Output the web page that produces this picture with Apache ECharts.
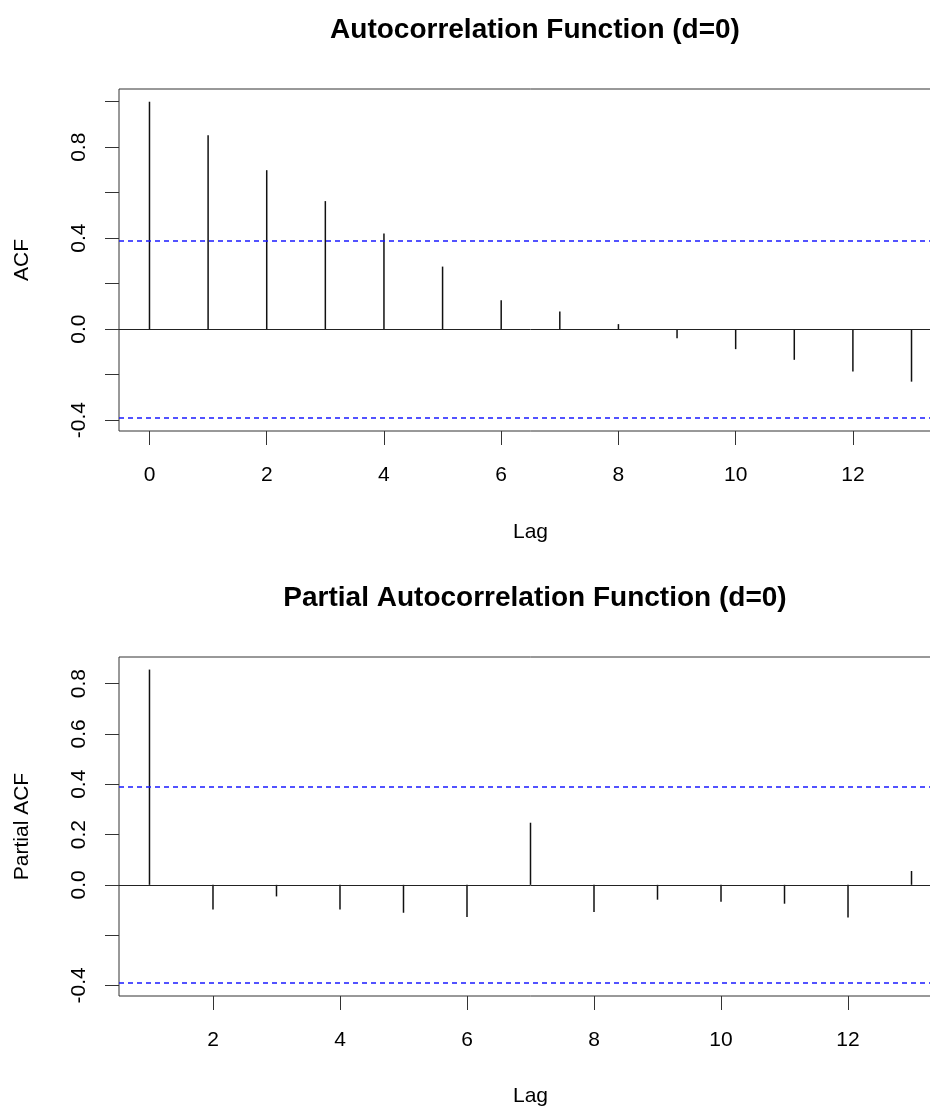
<!DOCTYPE html>
<html>
<head>
<meta charset="utf-8">
<script src="https://cdn.jsdelivr.net/npm/echarts@6/dist/echarts.min.js"></script>
<style>
  html, body { margin: 0; padding: 0; background: #fff; overflow: hidden; }
  /* the plot box runs past the right edge of the picture, so the canvas is wider than the window */
  #main { width: 960px; height: 1108px; }
</style>
</head>
<body>
<div id="main"></div>
<script>
// ACF, lags 0..13
const acfLags = [0, 1, 2, 3, 4, 5, 6, 7, 8, 9, 10, 11, 12, 13]
const acfValues = [1.0, 0.853, 0.699, 0.563, 0.421, 0.275, 0.127, 0.077, 0.022, -0.040, -0.088, -0.135, -0.186, -0.231]
// PACF, lags 1..13
const pacfLags = [1, 2, 3, 4, 5, 6, 7, 8, 9, 10, 11, 12, 13]
const pacfValues = [0.856, -0.098, -0.046, -0.098, -0.111, -0.128, 0.247, -0.108, -0.059, -0.067, -0.075, -0.130, 0.055]
const confBound = 0.392

const acfXTicks = [0, 2, 4, 6, 8, 10, 12]
const pacfXTicks = [2, 4, 6, 8, 10, 12]
const acfYTicks = [-0.4, -0.2, 0, 0.2, 0.4, 0.6, 0.8, 1.0]
const acfYLabels = [-0.4, 0, 0.4, 0.8]
const pacfYTicks = [-0.4, -0.2, 0, 0.2, 0.4, 0.6, 0.8]
const pacfYLabels = [-0.4, 0, 0.2, 0.4, 0.6, 0.8]

const FONT = 'Liberation Sans'

function xAxisOf(gridIndex, min, max, ticks, gap) {
  return {
    type: 'value', gridIndex, min, max,
    name: 'Lag', nameLocation: 'middle', nameGap: gap,
    nameTextStyle: { fontSize: 21, color: '#000', fontFamily: FONT },
    axisLine: { show: false, onZero: false },
    axisTick: { show: true, length: 14, customValues: ticks, lineStyle: { color: '#333', width: 1 } },
    axisLabel: { customValues: ticks, margin: 34, fontSize: 21, color: '#000', fontFamily: FONT,
      formatter: v => String(Math.round(v)) },
    splitLine: { show: false }
  }
}

function yAxisOf(gridIndex, min, max, name, ticks, labels) {
  return {
    type: 'value', gridIndex, min, max,
    name, nameLocation: 'middle', nameGap: 86,
    nameTextStyle: { fontSize: 21, color: '#000', fontFamily: FONT },
    axisLine: { show: false, onZero: false },
    axisTick: { show: true, length: 14, customValues: ticks, lineStyle: { color: '#333', width: 1 } },
    axisLabel: { customValues: labels, rotate: 90, margin: 29, fontSize: 21, color: '#000', fontFamily: FONT,
      formatter: v => v.toFixed(1) },
    splitLine: { show: false }
  }
}

// spikes, with the dashed significance bounds hung on them
function spikes(xi, lags, vals) {
  return {
    type: 'bar', xAxisIndex: xi, yAxisIndex: xi,
    barWidth: 1.5,
    itemStyle: { color: '#111' },
    data: lags.map((l, i) => [l, vals[i]]),
    markLine: {
      silent: true, symbol: 'none', label: { show: false },
      lineStyle: { color: '#1a1aff', type: [5, 4], width: 1.5 },
      emphasis: { disabled: true },
      data: [{ yAxis: confBound }, { yAxis: -confBound }]
    }
  }
}

// empty holder series for the zero line
function zeroLine(xi) {
  return {
    type: 'line', xAxisIndex: xi, yAxisIndex: xi, data: [],
    markLine: {
      silent: true, symbol: 'none', label: { show: false },
      lineStyle: { color: '#222', type: 'solid', width: 1 },
      data: [{ yAxis: 0 }]
    }
  }
}

const chart = echarts.init(document.getElementById('main'))
chart.setOption({
  animation: false,
  backgroundColor: '#fff',
  title: [
    { text: 'Autocorrelation Function (d=0)', left: 530, top: 11, textAlign: 'center',
      textStyle: { fontSize: 28, fontWeight: 'bold', color: '#000', fontFamily: FONT } },
    { text: 'Partial Autocorrelation Function (d=0)', left: 530, top: 579, textAlign: 'center',
      textStyle: { fontSize: 28, fontWeight: 'bold', color: '#000', fontFamily: FONT } }
  ],
  grid: [
    { left: 119, top: 89, width: 823, height: 342, show: true, borderColor: '#333', borderWidth: 1 },
    { left: 119, top: 657, width: 823, height: 342, show: true, borderColor: '#333', borderWidth: 1 }
  ],
  xAxis: [
    xAxisOf(0, -0.52, 13.52, acfXTicks, 91),
    xAxisOf(1, 0.52, 13.48, pacfXTicks, 90)
  ],
  yAxis: [
    yAxisOf(0, -0.448, 1.056, 'ACF', acfYTicks, acfYLabels),
    yAxisOf(1, -0.442, 0.906, 'Partial ACF', pacfYTicks, pacfYLabels)
  ],
  series: [
    zeroLine(0),
    zeroLine(1),
    spikes(0, acfLags, acfValues),
    spikes(1, pacfLags, pacfValues)
  ]
})
</script>
</body>
</html>
